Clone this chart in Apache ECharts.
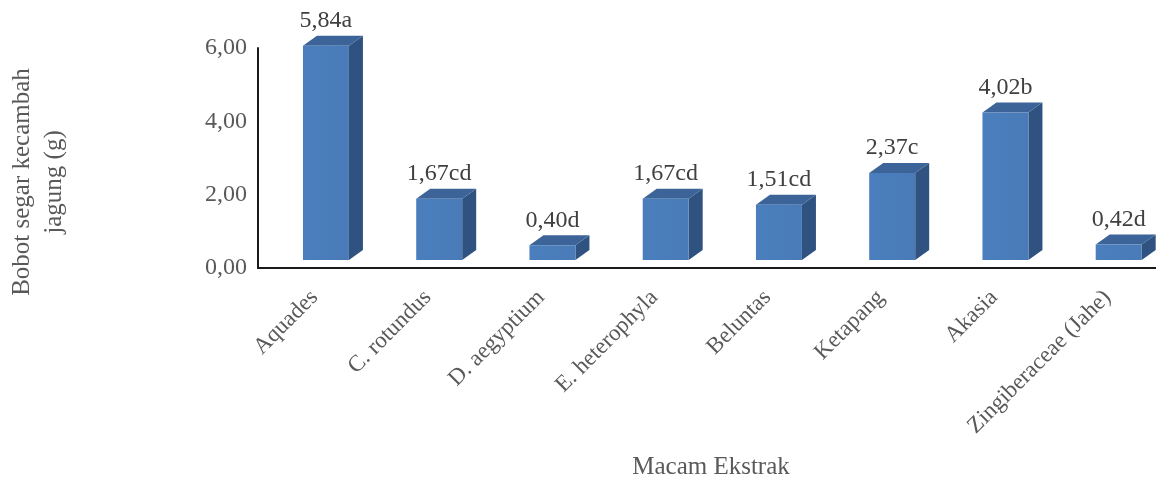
<!DOCTYPE html>
<html>
<head>
<meta charset="utf-8">
<script src="https://cdn.jsdelivr.net/npm/echarts@6/dist/echarts.min.js"></script>
<style>
html,body{margin:0;padding:0;background:#fff;}
#chart{width:1156px;height:481px;}
</style>
</head>
<body>
<div id="chart"></div>
<script>
const categories = ['Aquades', 'C. rotundus', 'D. aegyptium', 'E. heterophyla', 'Beluntas', 'Ketapang', 'Akasia', 'Zingiberaceae (Jahe)'];
const values = [5.84, 1.67, 0.40, 1.67, 1.51, 2.37, 4.02, 0.42];
const letters = ['a', 'cd', 'd', 'cd', 'cd', 'c', 'b', 'd'];
const yTicks = [0, 2, 4, 6];

const FONT = '"Liberation Serif", "Times New Roman", serif';
const TXT = '#595959';
const fmt = v => v.toFixed(2).replace('.', ',');

const chart = echarts.init(document.getElementById('chart'));
const data = categories.map((c, i) => [i, values[i]]);

chart.setOption({
  animation: false,
  grid: { left: 258, width: 906, top: 48, bottom: 213, containLabel: false, outerBoundsMode: 'none' },
  xAxis: {
    type: 'category',
    data: categories,
    axisLine: { lineStyle: { color: '#1a1a1a', width: 2 } },
    axisTick: { show: false },
    axisLabel: { rotate: 45, interval: 0, margin: 26, color: TXT, fontFamily: FONT, fontSize: 23 },
    name: 'Macam Ekstrak',
    nameLocation: 'middle',
    nameGap: 187,
    nameTextStyle: { color: TXT, fontFamily: FONT, fontSize: 25 }
  },
  yAxis: {
    type: 'value',
    min: yTicks[0],
    max: yTicks[yTicks.length - 1],
    interval: 2,
    axisLine: { show: true, lineStyle: { color: '#1a1a1a', width: 2 } },
    axisTick: { show: false },
    splitLine: { show: false },
    axisLabel: { color: TXT, fontFamily: FONT, fontSize: 24, margin: 11, formatter: v => fmt(v) }
  },
  graphic: [{
    type: 'text',
    x: 38, y: 182,
    rotation: Math.PI / 2,
    style: {
      text: 'Bobot segar kecambah\njagung (g)',
      fill: TXT, font: '25px ' + FONT,
      align: 'center', verticalAlign: 'middle', lineHeight: 32
    }
  }],
  series: [{
    type: 'custom',
    data: data,
    encode: { x: 0, y: 1 },
    renderItem: function (params, api) {
      const i = api.value(0);
      const v = api.value(1);
      const p0 = api.coord([i, 0]);
      const p = api.coord([i, v]);
      const band = api.size([1, 0])[0];
      const w = band * 0.406;
      const shift = band * 0.1;
      const dx = 14, dy = -10, lift = 8;
      const cx = p[0] + shift;
      const yb = p0[1] - lift;
      const yt = p[1] - lift;
      const l = cx - w / 2, r = cx + w / 2;
      return {
        type: 'group',
        children: [
          { type: 'polygon', shape: { points: [[r, yt], [r + dx, yt + dy], [r + dx, yb + dy], [r, yb]] },
            style: { fill: '#2f5280' } },
          { type: 'polygon', shape: { points: [[l, yt], [l + dx, yt + dy], [r + dx, yt + dy], [r, yt]] },
            style: { fill: '#3c6499' } },
          { type: 'rect', shape: { x: l, y: yt, width: w, height: yb - yt },
            style: { fill: new echarts.graphic.LinearGradient(0, 0, 1, 0, [
              { offset: 0, color: '#4a7ebd' }, { offset: 1, color: '#4a7bb8' }]) } },
          { type: 'text', x: cx, y: yt + dy - 3,
            style: { text: fmt(values[params.dataIndex]) + letters[params.dataIndex],
              fill: '#404040', font: '24px ' + FONT, align: 'center', verticalAlign: 'bottom' } }
        ]
      };
    }
  }]
});
</script>
</body>
</html>
